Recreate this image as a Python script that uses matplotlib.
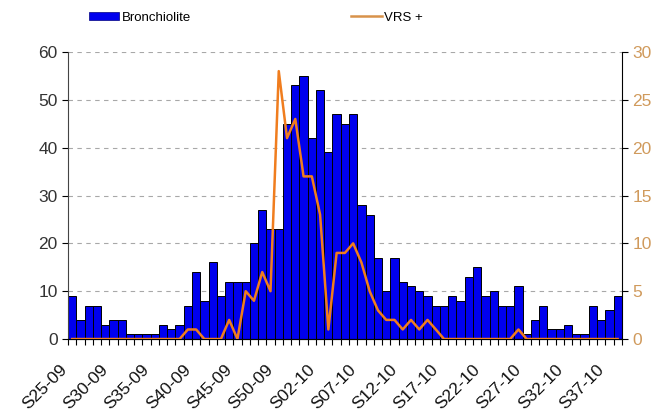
import numpy as np
import matplotlib.pyplot as plt
from matplotlib.patches import Patch
from matplotlib.lines import Line2D

plt.rcParams['font.family'] = ['Liberation Sans', 'DejaVu Sans']

# weeks S25-09 .. S53-09, S01-10 .. S38-10
weeks = ['S%02d-09' % w for w in range(25, 54)] + ['S%02d-10' % w for w in range(1, 39)]

bronchiolite = [9, 4, 7, 7, 3, 4, 4, 1, 1, 1, 1, 3, 2, 3, 7, 14, 8, 16, 9, 12,
                12, 12, 20, 27, 23, 23, 45, 53, 55, 42, 52, 39, 47, 45, 47, 28, 26, 17, 10, 17,
                12, 11, 10, 9, 7, 7, 9, 8, 13, 15, 9, 10, 7, 7, 11, 1, 4, 7, 2, 2,
                3, 1, 1, 7, 4, 6, 9]

vrs = [0, 0, 0, 0, 0, 0, 0, 0, 0, 0, 0, 0, 0, 0, 1, 1, 0, 0, 0, 2,
       0, 5, 4, 7, 5, 28, 21, 23, 17, 17, 13, 1, 9, 9, 10, 8, 5, 3, 2, 2,
       1, 2, 1, 2, 1, 0, 0, 0, 0, 0, 0, 0, 0, 0, 1, 0, 0, 0, 0, 0,
       0, 0, 0, 0, 0, 0, 0]

label_idx = list(range(0, len(weeks), 5))

bar_color = '#0000EE'
line_color = '#F07D1E'
right_col = '#D09A5C'

fig = plt.figure(figsize=(6.68, 4.16), dpi=100)
ax = fig.add_axes([0.1018, 0.185, 0.829, 0.69])
x = np.arange(len(weeks))

ax.bar(x, bronchiolite, width=1.0, color=bar_color, edgecolor='black', linewidth=0.7, zorder=2)
ax.set_xlim(-0.5, len(weeks) - 0.5)
ax.set_ylim(0, 60)
ax.set_yticks(range(0, 61, 10))
ax.yaxis.grid(True, linestyle=(0, (4, 4)), color='#A8A8A8', linewidth=0.8, zorder=0)
ax.set_axisbelow(True)

# week labels, drawn by hand so they can sit below/left of the bar centre
ax.set_xticks(np.arange(-0.5, len(weeks), 1))
ax.set_xticklabels([])
ax.tick_params(axis='x', length=4, width=0.8, color='black')
for i in label_idx:
    ax.annotate(weeks[i], xy=(x[i], 0), xycoords=('data', 'axes fraction'),
                xytext=(-9.5, -16.5), textcoords='offset points',
                rotation=45, rotation_mode='anchor', ha='right', va='top',
                fontsize=12.5, color='#111111')
ax.tick_params(axis='y', labelsize=12.5, labelcolor='#333333', length=4, width=0.8)

ax.spines['top'].set_visible(False)
ax.spines['left'].set_color('#444444')
ax.spines['right'].set_visible(False)

ax2 = ax.twinx()
ax2.plot(x, vrs, color=line_color, linewidth=1.8, zorder=3)
ax2.set_ylim(0, 30)
ax2.set_yticks(range(0, 31, 5))
ax2.tick_params(axis='y', labelsize=12.5, labelcolor=right_col, length=4, width=0.8)
ax2.spines['top'].set_visible(False)
ax2.spines['left'].set_visible(False)
ax2.spines['right'].set_color('black')

handles = [Patch(facecolor=bar_color, edgecolor='#000080', linewidth=0.5),
           Line2D([0], [0], color='#D8924A', linewidth=1.8)]
fig.legend(handles, ['Bronchiolite', 'VRS +'], ncol=2, loc='upper left',
           bbox_to_anchor=(0.115, 1.0), frameon=False, fontsize=9.5,
           handlelength=2.3, handleheight=0.6, handletextpad=0.2, columnspacing=12.15)

fig.savefig('out.png', dpi=100, facecolor='white')
